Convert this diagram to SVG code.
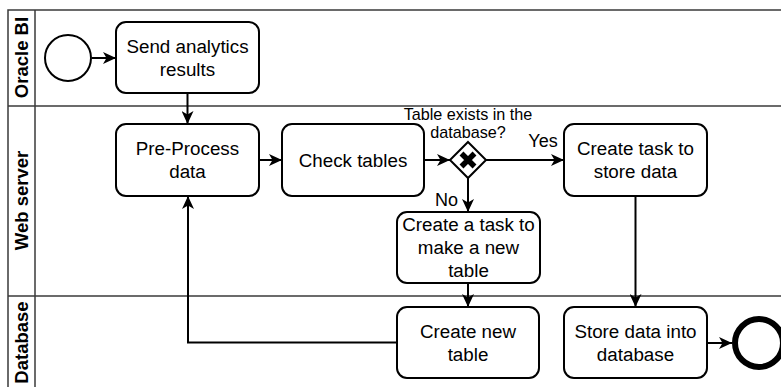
<svg xmlns="http://www.w3.org/2000/svg" width="781" height="387" viewBox="0 0 781 387">
  <defs>
    <marker id="arrow" markerUnits="userSpaceOnUse" markerWidth="14" markerHeight="12" refX="13" refY="6" orient="auto">
      <path d="M0,0 L13,6 L0,12 L3.5,6 Z" fill="#000"/>
    </marker>
    <style>
      .lane { fill: none; stroke: #3a3a3a; stroke-width: 1.5; }
      .lane-label { font-family: "Liberation Sans", Arial, Helvetica, sans-serif; font-size: 18.5px; font-weight: bold; fill: #000; text-anchor: middle; }
      .task rect { fill: #fff; stroke: #000; stroke-width: 2; }
      .task text, .label { font-family: "Liberation Sans", Arial, Helvetica, sans-serif; font-size: 18px; fill: #000; text-anchor: middle; }
      .task text { font-size: 18.8px; }
      .small { font-size: 16.2px; }
      .edge { fill: none; stroke: #000; stroke-width: 2; marker-end: url(#arrow); }
    </style>
  </defs>

  <rect width="781" height="387" fill="#fff"/>

  <!-- pool with three lanes -->
  <g id="pool">
    <path class="lane" d="M8,400 V10 H790"/>
    <path class="lane" d="M35,10 V400"/>
    <path class="lane" d="M8,106 H790"/>
    <path class="lane" d="M8,296 H790"/>
    <text class="lane-label" transform="translate(28,57.5) rotate(-90)">Oracle BI</text>
    <text class="lane-label" transform="translate(28,200.5) rotate(-90)">Web server</text>
    <text class="lane-label" transform="translate(28,342.5) rotate(-90)">Database</text>
  </g>

  <!-- connectors -->
  <g id="connectors">
    <path class="edge" d="M92,58 H116"/>
    <path class="edge" d="M187.5,93 V124"/>
    <path class="edge" d="M259,160 H282"/>
    <path class="edge" d="M424,160 H450"/>
    <path class="edge" d="M486,160 H564"/>
    <path class="edge" d="M468,178 V212"/>
    <path class="edge" d="M468,283 V307"/>
    <path class="edge" d="M635.5,196 V307"/>
    <path class="edge" d="M397,342.5 H188 V196"/>
    <path class="edge" d="M707,343 H732"/>
    <text class="label" x="543" y="147">Yes</text>
    <text class="label" x="446.5" y="206">No</text>
  </g>

  <g id="start">
    <circle cx="68" cy="58" r="23" fill="#fff" stroke="#000" stroke-width="2"/>
  </g>

  <g id="send-results" class="task">
    <rect x="116" y="22" width="143" height="71" rx="10"/>
    <text x="187.5" y="52.5">Send analytics</text>
    <text x="187.5" y="75.5">results</text>
  </g>

  <g id="pre-process" class="task">
    <rect x="116" y="124" width="143" height="72" rx="10"/>
    <text x="187.5" y="155">Pre-Process</text>
    <text x="187.5" y="178">data</text>
  </g>

  <g id="check-tables" class="task">
    <rect x="282" y="124" width="142" height="72" rx="10"/>
    <text x="353" y="166.5">Check tables</text>
  </g>

  <g id="table-exists">
    <path d="M468,142 L486,160 L468,178 L450,160 Z" fill="#fff" stroke="#000" stroke-width="2"/>
    <path d="M461.5,153.5 L474.5,166.5 M474.5,153.5 L461.5,166.5" stroke="#000" stroke-width="5.5" stroke-linecap="butt"/>
    <text class="label small" x="468" y="119.5">Table exists in the</text>
    <text class="label small" x="468" y="138">database?</text>
  </g>

  <g id="task-store" class="task">
    <rect x="564" y="124" width="143" height="72" rx="10"/>
    <text x="635.5" y="155">Create task to</text>
    <text x="635.5" y="178">store data</text>
  </g>

  <g id="task-new-table" class="task">
    <rect x="397" y="212" width="143" height="71" rx="10"/>
    <text x="468.5" y="231">Create a task to</text>
    <text x="468.5" y="254">make a new</text>
    <text x="468.5" y="277">table</text>
  </g>

  <g id="create-table" class="task">
    <rect x="397" y="307" width="142" height="71" rx="10"/>
    <text x="468" y="337.5">Create new</text>
    <text x="468" y="360.5">table</text>
  </g>

  <g id="store-data" class="task">
    <rect x="564" y="307" width="143" height="71" rx="10"/>
    <text x="635.5" y="337.5">Store data into</text>
    <text x="635.5" y="360.5">database</text>
  </g>

  <g id="end">
    <circle cx="759" cy="343" r="24" fill="#fff" stroke="#000" stroke-width="6"/>
  </g>
</svg>
